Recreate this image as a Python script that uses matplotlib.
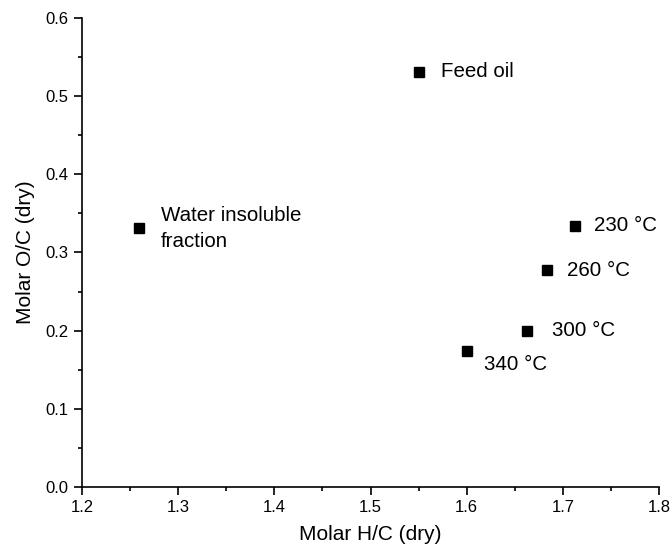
import matplotlib
matplotlib.use('Agg')
import matplotlib.pyplot as plt
from matplotlib.ticker import MultipleLocator

plt.rcParams['font.family'] = ['Liberation Sans', 'DejaVu Sans']

# data
sample_names = ['Feed oil', 'Water insoluble\nfraction', '230 °C', '260 °C', '300 °C', '340 °C']
hc_ratio = [1.550, 1.259, 1.713, 1.684, 1.663, 1.600]
oc_ratio = [0.531, 0.331, 0.334, 0.277, 0.200, 0.174]

# label offsets in pixels (dx, dy)
offsets = [(22, 0), (22, 0), (19, 0), (20, 0), (25, 0), (17, -14)]

fig = plt.figure(figsize=(6.72, 5.54), dpi=100)
ax = fig.add_axes([82/672, 1-487/554, 577/672, 469/554])

ax.plot(hc_ratio, oc_ratio, 's', color='black', markersize=6.5, linestyle='none')
for name, x, y, off in zip(sample_names, hc_ratio, oc_ratio, offsets):
    ax.annotate(name, (x, y), xytext=off, textcoords='offset pixels',
                ha='left', va='center', fontsize=14.8, linespacing=1.45)

ax.set_xlim(1.2, 1.8)
ax.set_ylim(0.0, 0.6)
ax.xaxis.set_major_locator(MultipleLocator(0.1))
ax.xaxis.set_minor_locator(MultipleLocator(0.05))
ax.yaxis.set_major_locator(MultipleLocator(0.1))
ax.yaxis.set_minor_locator(MultipleLocator(0.05))
ax.set_xticklabels([f'{v:.1f}' for v in ax.get_xticks()])
ax.set_yticklabels([f'{v:.1f}' for v in ax.get_yticks()])

ax.spines['top'].set_visible(False)
ax.spines['right'].set_visible(False)
for s in ['left', 'bottom']:
    ax.spines[s].set_linewidth(1.2)
ax.tick_params(which='major', direction='out', length=6, width=1.2, labelsize=12, pad=3.5)
ax.tick_params(which='minor', direction='out', length=3, width=1.2)

ax.set_xlabel('Molar H/C (dry)', fontsize=15, labelpad=7)
ax.set_ylabel('Molar O/C (dry)', fontsize=15, labelpad=8)

fig.savefig('out.png', dpi=100)
